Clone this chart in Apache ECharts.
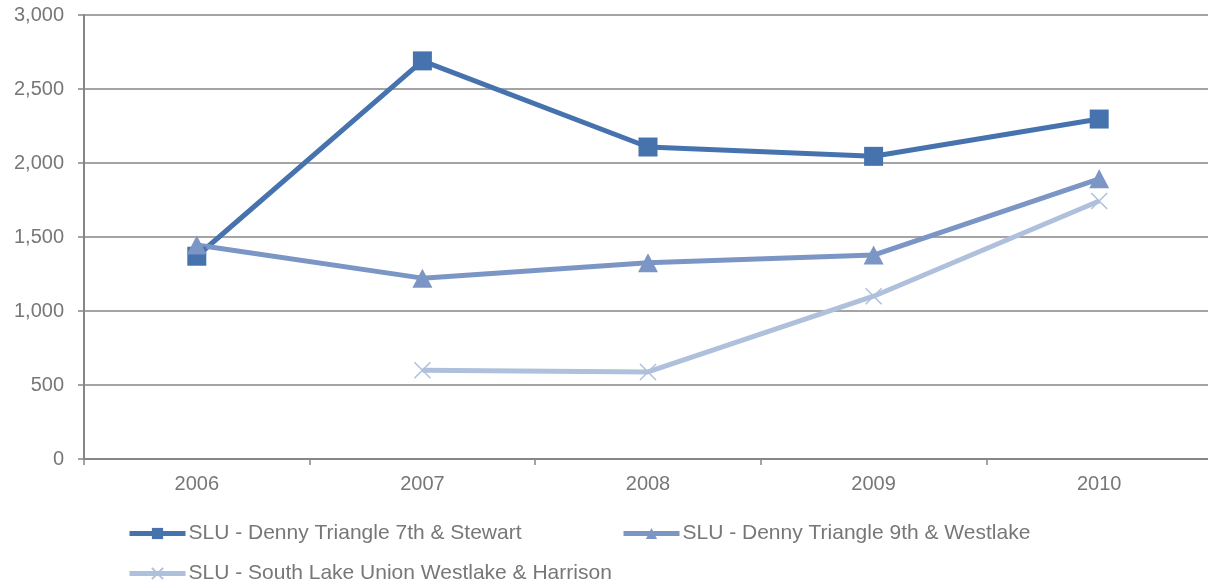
<!DOCTYPE html>
<html><head><meta charset="utf-8">
<script src="https://cdn.jsdelivr.net/npm/echarts@6/dist/echarts.min.js"></script>
<style>html,body{margin:0;padding:0;background:#fff;overflow:hidden}#c{width:1216px;height:585px}</style>
</head><body><div id="c"></div>
<script>
const categories = ['2006','2007','2008','2009','2010'];
const seriesNames = ['SLU - Denny Triangle 7th & Stewart','SLU - Denny Triangle 9th & Westlake','SLU - South Lake Union Westlake & Harrison'];
const s1 = [1370, 2690, 2108, 2045, 2297];
const s2 = [1446, 1222, 1326, 1378, 1893];
const s3 = [null, 600, 588, 1100, 1743];
const colors = ['#4673AE','#7B96C5','#AFC0DC'];
const font = 'Liberation Sans, Arial, sans-serif';
const chart = echarts.init(document.getElementById('c'));
const legendText = {color:'#777', fontSize:21, fontFamily:font, padding:[0,0,0,-2]};
const legendBase = {itemWidth:56, itemHeight:14, itemGap:0, textStyle:legendText, lineStyle:{width:5}};
chart.setOption({
  animation:false,
  grid:{left:84, top:15, right:4, bottom:126, containLabel:false},
  xAxis:{type:'category', data:categories, boundaryGap:true,
    axisLine:{lineStyle:{color:'#868686', width:2}},
    axisTick:{show:true, length:6, lineStyle:{color:'#868686', width:1.5}},
    axisLabel:{color:'#777', fontSize:20, fontFamily:font, margin:15}},
  yAxis:{type:'value', min:0, max:3000, interval:500,
    axisLine:{show:true, lineStyle:{color:'#868686', width:2}},
    axisTick:{show:true, length:6, lineStyle:{color:'#868686', width:1.5}},
    splitLine:{lineStyle:{color:'#868686', width:1.5}},
    axisLabel:{color:'#777', fontSize:20, fontFamily:font, margin:20,
      formatter:v=>v.toLocaleString('en-US')}},
  legend:[
    Object.assign({data:[seriesNames[0]], left:122, top:518}, legendBase),
    Object.assign({data:[seriesNames[1]], left:616, top:518}, legendBase),
    Object.assign({data:[seriesNames[2]], left:122, top:558}, legendBase)
  ],
  series:[
    {name:seriesNames[0], type:'line', data:s1, symbol:'rect', symbolSize:19,
      lineStyle:{color:colors[0], width:5}, itemStyle:{color:colors[0]}},
    {name:seriesNames[1], type:'line', data:s2, symbol:'triangle', symbolSize:[20,19],
      lineStyle:{color:colors[1], width:5}, itemStyle:{color:colors[1]}},
    {name:seriesNames[2], type:'line', data:s3, symbol:'path://M0,0L10,10M10,0L0,10', symbolSize:16,
      lineStyle:{color:colors[2], width:5}, itemStyle:{color:colors[2], borderColor:colors[2], borderWidth:1.5}}
  ]
});
</script></body></html>
